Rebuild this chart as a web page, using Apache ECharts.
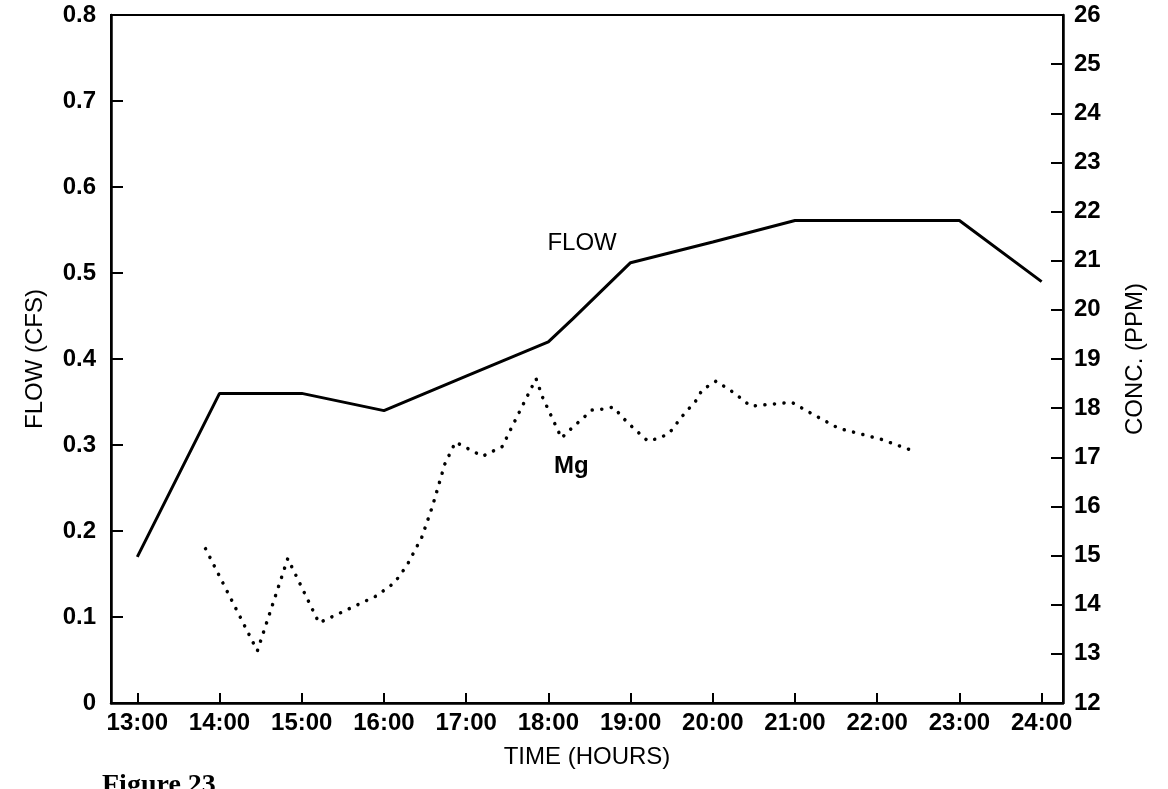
<!DOCTYPE html>
<html>
<head>
<meta charset="utf-8">
<title>Figure 23</title>
<script src="https://cdn.jsdelivr.net/npm/echarts@6/dist/echarts.min.js"></script>
<style>
  html, body { margin: 0; padding: 0; background: #fff; }
  #chart { width: 1168px; height: 789px; }
</style>
</head>
<body>
<div id="chart"></div>
<script>
  // hours on the x axis (13 = 13:00)
  var hourTicks = [13, 14, 15, 16, 17, 18, 19, 20, 21, 22, 23, 24];

  // flow, left axis (cfs)
  var flowHours  = [13, 14, 15, 16, 17, 18, 18.3, 19, 20, 21, 22, 23, 24];
  var flowValues = [0.17, 0.36, 0.36, 0.34, 0.38, 0.42, 0.447, 0.512, 0.536, 0.561, 0.561, 0.561, 0.49];

  // Mg concentration, right axis (ppm)
  var mgHours  = [13.83, 14.46, 14.83, 15.21, 15.91, 16.13, 16.28, 16.46, 16.59, 16.74, 16.87,
                  17.2, 17.44, 17.56, 17.85, 17.93, 18.16, 18.23, 18.53, 18.66, 18.79, 18.96,
                  19.21, 19.35, 19.47, 19.63, 19.8, 19.87, 20.04, 20.26, 20.46, 20.84, 20.96,
                  21.19, 21.53, 22.04, 22.42];
  var mgValues = [15.14, 13.06, 14.94, 13.63, 14.18, 14.45, 14.8, 15.37, 16.0, 16.86, 17.31,
                  17.02, 17.22, 17.63, 18.6, 18.22, 17.39, 17.51, 17.96, 17.98, 18.02, 17.71,
                  17.33, 17.39, 17.49, 17.84, 18.16, 18.37, 18.55, 18.31, 18.04, 18.1, 18.12,
                  17.9, 17.59, 17.37, 17.14];

  // where the two series names sit (data coords)
  var flowLabelAt = [18.41, 0.534];
  var mgLabelAt = [18.28, 16.82];

  var pair = function (xs, ys) {
    return xs.map(function (x, i) { return [x, ys[i]]; });
  };

  var font = '"Liberation Sans", Arial, sans-serif';
  var tickText = { color: '#000', fontSize: 24, fontWeight: 'bold', fontFamily: font };
  var nameText = { color: '#000', fontSize: 24, fontFamily: font };

  var myChart = echarts.init(document.getElementById('chart'));
  var option = {
    animation: false,
    backgroundColor: '#fff',
    grid: {
      left: 111,
      right: 105,
      top: 15,
      bottom: 86,
      show: true,
      borderColor: '#000',
      borderWidth: 2
    },
    xAxis: {
      type: 'value',
      min: 12.68,
      max: 24.26,
      name: 'TIME (HOURS)',
      nameLocation: 'middle',
      nameGap: 42,
      nameTextStyle: nameText,
      axisLine: { lineStyle: { color: '#000', width: 2.5 } },
      axisTick: { inside: true, length: 10, customValues: hourTicks, lineStyle: { color: '#000', width: 2 } },
      axisLabel: Object.assign({
        customValues: hourTicks,
        margin: 8,
        formatter: function (v) { return v + ':00'; }
      }, tickText),
      splitLine: { show: false }
    },
    yAxis: [{
      type: 'value',
      min: 0,
      max: 0.8,
      interval: 0.1,
      name: 'FLOW (CFS)',
      nameLocation: 'middle',
      nameGap: 64,
      nameRotate: 90,
      nameTextStyle: nameText,
      axisLine: { show: true, lineStyle: { color: '#000', width: 2.5 } },
      axisTick: { show: true, inside: true, length: 12, lineStyle: { color: '#000', width: 2 } },
      axisLabel: Object.assign({ margin: 15 }, tickText),
      splitLine: { show: false }
    }, {
      type: 'value',
      position: 'right',
      min: 12,
      max: 26,
      interval: 1,
      name: 'CONC. (PPM)',
      nameLocation: 'middle',
      nameGap: 60,
      nameRotate: 90,
      nameTextStyle: nameText,
      axisLine: { show: true, lineStyle: { color: '#000', width: 2.5 } },
      axisTick: { show: true, inside: true, length: 12, lineStyle: { color: '#000', width: 2 } },
      axisLabel: Object.assign({ margin: 11 }, tickText),
      splitLine: { show: false }
    }],
    series: [{
      name: 'FLOW',
      type: 'line',
      yAxisIndex: 0,
      data: pair(flowHours, flowValues),
      showSymbol: false,
      lineStyle: { color: '#000', width: 3 },
      markPoint: {
        symbol: 'circle',
        symbolSize: 1,
        itemStyle: { color: 'rgba(0,0,0,0)' },
        label: Object.assign({ show: true, position: 'inside', formatter: 'FLOW' }, nameText),
        data: [{ coord: flowLabelAt }]
      }
    }, {
      name: 'Mg',
      type: 'line',
      yAxisIndex: 1,
      data: pair(mgHours, mgValues),
      showSymbol: false,
      lineStyle: { color: '#000', width: 3.5, type: [0.1, 9.5], cap: 'round' },
      markPoint: {
        symbol: 'circle',
        symbolSize: 1,
        itemStyle: { color: 'rgba(0,0,0,0)' },
        label: Object.assign({ show: true, position: 'inside', formatter: 'Mg', fontWeight: 'bold' }, nameText),
        data: [{ coord: mgLabelAt }]
      }
    }],
    graphic: [{
      type: 'text',
      left: 102,
      top: 772,
      style: {
        text: 'Figure 23',
        font: 'bold 28px "Liberation Serif", "Times New Roman", serif',
        fill: '#000'
      }
    }]
  };
  myChart.setOption(option);
</script>
</body>
</html>
